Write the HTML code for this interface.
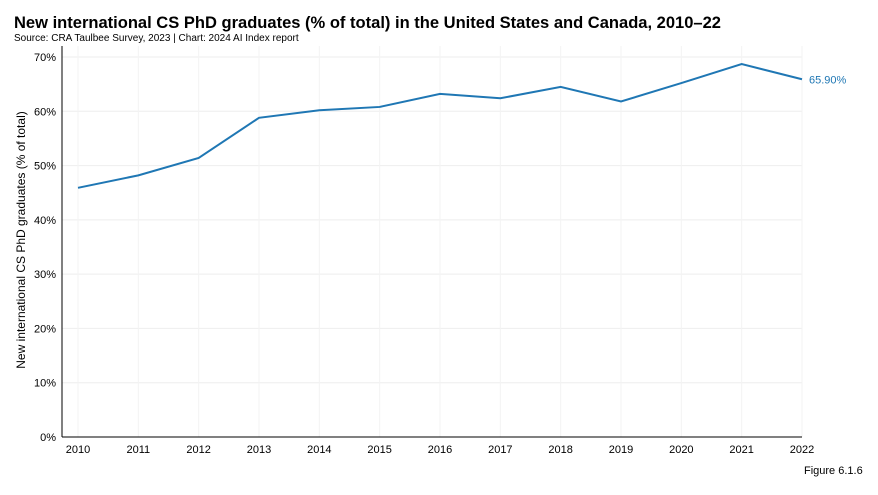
<!DOCTYPE html>
<html><head><meta charset="utf-8"><style>
body{margin:0;background:#fff;font-family:"Liberation Sans",sans-serif;}
</style></head><body>
<svg width="878" height="490" xmlns="http://www.w3.org/2000/svg">
<text x="14" y="28" font-size="17" font-weight="bold" fill="#000" textLength="707" lengthAdjust="spacingAndGlyphs">New international CS PhD graduates (% of total) in the United States and Canada, 2010–22</text>
<text x="14" y="41" font-size="10" fill="#000">Source: CRA Taulbee Survey, 2023 | Chart: 2024 AI Index report</text>
<g id="grid"></g>
<g id="yt"></g>
<g id="xt"></g>
<line x1="62" y1="46" x2="62" y2="437" stroke="#000" stroke-width="1"/>
<line x1="62" y1="437" x2="802" y2="437" stroke="#000" stroke-width="1"/>
<text transform="translate(25,240) rotate(-90)" text-anchor="middle" font-size="12" fill="#000">New international CS PhD graduates (% of total)</text>
<path id="line" fill="none" stroke="#1f77b4" stroke-width="2"/>
<text id="endlbl" font-size="11" fill="#1f77b4"></text>
<text x="804" y="474" font-size="11" fill="#000">Figure 6.1.6</text>
</svg>
<script>
const years=[2010,2011,2012,2013,2014,2015,2016,2017,2018,2019,2020,2021,2022];
const values=[45.9,48.2,51.4,58.8,60.2,60.8,63.2,62.4,64.5,61.8,65.2,68.7,65.9];
const yTicks=[0,10,20,30,40,50,60,70];
const NS="http://www.w3.org/2000/svg";
const x=y=>78+(y-2010)*(802-78)/12;
const yy=v=>437-v*(437-57)/70;
const grid=document.getElementById('grid'),yt=document.getElementById('yt'),xt=document.getElementById('xt');
yTicks.forEach(t=>{
 const l=document.createElementNS(NS,'line');
 
 
 l.setAttribute('x1',62);l.setAttribute('x2',802);l.setAttribute('y1',yy(t));l.setAttribute('y2',yy(t));
 l.setAttribute('stroke','#eee');grid.appendChild(l);
 const tx=document.createElementNS(NS,'text');
 
 
 tx.setAttribute('x',56);tx.setAttribute('y',yy(t)+4);tx.setAttribute('text-anchor','end');tx.setAttribute('font-size','11');
 tx.textContent=t+'%';yt.appendChild(tx);
});
years.forEach(yr=>{
 const l=document.createElementNS(NS,'line');
 
 
 l.setAttribute('x1',x(yr));l.setAttribute('x2',x(yr));l.setAttribute('y1',46);l.setAttribute('y2',437);
 l.setAttribute('stroke','#f3f3f3');grid.appendChild(l);
 const tx=document.createElementNS(NS,'text');
 
 
 tx.setAttribute('x',x(yr));tx.setAttribute('y',453);tx.setAttribute('text-anchor','middle');tx.setAttribute('font-size','11');
 tx.textContent=yr;xt.appendChild(tx);
});
document.getElementById('line').setAttribute('d',values.map((v,i)=>(i?'L':'M')+x(years[i])+','+yy(v)).join(''));
const e=document.getElementById('endlbl');
e.setAttribute('x',x(years[years.length-1])+7);e.setAttribute('y',yy(values[values.length-1])+4);
e.textContent=values[values.length-1].toFixed(2)+'%';
</script>
</body></html>
